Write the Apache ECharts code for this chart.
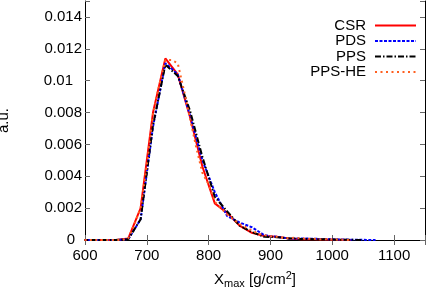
<!DOCTYPE html>
<html><head><meta charset="utf-8">
<script src="https://cdn.jsdelivr.net/npm/echarts@6/dist/echarts.min.js"></script>
<style>html,body{margin:0;padding:0;background:#fff}#c{width:426px;height:289px}</style>
</head><body><div id="c"></div>
<script>
// ---- data ----
const seriesNames = ['CSR', 'PDS', 'PPS', 'PPS-HE'];
const xBins = [590,610,630,650,670,690,710,730,750,770,790,810,830,850,870,890,910,930,950,970,990,1010,1030,1050,1070];
const csrValues = [0,0,0,0,0.0001,0.0020,0.0080,0.0114,0.0104,0.0077,0.0046,0.0023,0.0017,0.0009,0.00045,0.00025,0.0002,0.0001,0.00005,0.00004,0.00003,0.00002,0,null,null];
const pdsValues = [0,0,0,0,0.00005,0.0013,0.0071,0.0111,0.0104,0.0078,0.0050,0.0030,0.0015,0.0011,0.0008,0.0003,0.0002,0.0001,0.0001,0.00008,0.00005,0.00003,0.00002,0.00001,0];
const ppsValues = [0,0,0,0,0.00005,0.0013,0.0072,0.0110,0.0103,0.0081,0.0052,0.0027,0.0018,0.0009,0.0005,0.0002,0.00018,0.0001,0.00007,0.00005,0.00004,0.00002,0.00001,0,null];
const heBins = [590,600,610,620,630,640,650,660,670,680,690,700,710,720,730,740,750,760,770,780,790,800,810,820,830,840,850,860,870,880,890,900,910,920,930,940,950,960,970,980,990,1000,1010,1020,1030];
const heValues = [0,0,0,0,0,0,0,0,0.0001,0.0010,0.0020,0.0047,0.0079,0.0097,0.0113,0.0113,0.0111,0.0094,0.0076,0.0058,0.0042,0.0035,0.0024,0.0020,0.0016,0.0013,0.0010,0.0008,0.0006,0.0004,0.0003,0.00025,0.0002,0.00015,0.0001,0.00015,0.0001,0.00008,0.00008,0.00005,0.00005,0.00003,0.00002,0.00001,0];
const xTicks = [600,700,800,900,1000,1100];
const yTicks = [0,0.002,0.004,0.006,0.008,0.01,0.012,0.014];

const pair = (xs, ys) => xs.map((x, i) => [x, ys[i]]);
const font = 'Liberation Sans, Arial, sans-serif';
const frame = {show: true, lineStyle: {color: '#000', width: 1}};
const tick = {show: true, inside: true, length: 5, lineStyle: {color: '#666'}};
const yLab = {fontFamily: font, fontSize: 15, color: '#000'};

const chart = echarts.init(document.getElementById('c'), null, {renderer: 'canvas'});
chart.setOption({
  animation: false,
  backgroundColor: '#fff',
  grid: {left: 85, right: 1, top: 1, bottom: 49, containLabel: false, outerBoundsMode: 'none'},
  legend: {
    data: seriesNames,
    orient: 'vertical', right: 4, top: 13, align: 'right',
    itemWidth: 41, itemHeight: 10, itemGap: 0.5,
    itemStyle: {color: 'rgba(0,0,0,0)', borderWidth: 0, opacity: 0},
    textStyle: {fontFamily: font, fontSize: 15, color: '#000', lineHeight: 15, padding: [0, 4, 0, 0]}
  },
  xAxis: [{
    type: 'value', min: 600, max: 1150, interval: 100,
    axisLine: frame, axisTick: tick, splitLine: {show: false},
    axisLabel: {fontFamily: font, fontSize: 15, color: '#000', margin: 8,
      formatter: v => xTicks.includes(v) ? String(v) : ''},
    name: 'X{sub|max} [g/cm{sup|2}]', nameLocation: 'middle', nameGap: 30,
    nameTextStyle: {fontFamily: font, fontSize: 15, color: '#000',
      rich: {sub: {fontFamily: font, fontSize: 11, color: '#000', verticalAlign: 'bottom', padding: [8, 0, 0, 0]},
             sup: {fontFamily: font, fontSize: 11, color: '#000', verticalAlign: 'top', padding: [0, 0, 8, 0]}}}
  }, {
    type: 'value', position: 'top', min: 600, max: 1150, interval: 100,
    axisLine: frame, axisTick: tick, axisLabel: {show: false}, splitLine: {show: false}
  }],
  yAxis: [{
    type: 'value', min: 0, max: 0.015, interval: 0.002,
    axisLine: frame, axisTick: tick, splitLine: {show: false},
    axisLabel: {color: '#000', margin: 3,
      formatter: v => {
        const r = parseFloat(v.toFixed(3));
        if (!yTicks.some(t => Math.abs(t - r) < 1e-9)) return '';
        const s = String(r);
        if (s === '0.01') return '{b|' + s + '}';
        if (s === '0') return '{c|' + s + '}';
        return '{a|' + s + '}';
      },
      rich: {a: yLab, b: Object.assign({padding: [0, 9, 0, 0]}, yLab), c: Object.assign({padding: [0, 7, 0, 0]}, yLab)}},
    name: 'a.u.', nameLocation: 'middle', nameGap: 74,
    nameTextStyle: {fontFamily: font, fontSize: 15, color: '#000'}
  }, {
    type: 'value', position: 'right', min: 0, max: 0.015, interval: 0.002,
    axisLine: frame, axisTick: tick, axisLabel: {show: false}, splitLine: {show: false}
  }],
  series: [
    {name: 'CSR', type: 'line', data: pair(xBins, csrValues), showSymbol: false, symbol: 'none',
     lineStyle: {color: '#ff0000', width: 2}, itemStyle: {color: '#ff0000'}},
    {name: 'PDS', type: 'line', data: pair(xBins, pdsValues), showSymbol: false, symbol: 'none',
     lineStyle: {color: '#0000ff', width: 2, type: [3, 1.5]}, itemStyle: {color: '#0000ff'}},
    {name: 'PPS', type: 'line', data: pair(xBins, ppsValues), showSymbol: false, symbol: 'none',
     lineStyle: {color: '#000000', width: 2, type: [6, 2, 1.5, 2]}, itemStyle: {color: '#000000'}},
    {name: 'PPS-HE', type: 'line', data: pair(heBins, heValues), showSymbol: false, symbol: 'none',
     lineStyle: {color: '#ff6020', width: 2, type: [2, 3.5]}, itemStyle: {color: '#ff6020'}}
  ]
});
</script></body></html>
